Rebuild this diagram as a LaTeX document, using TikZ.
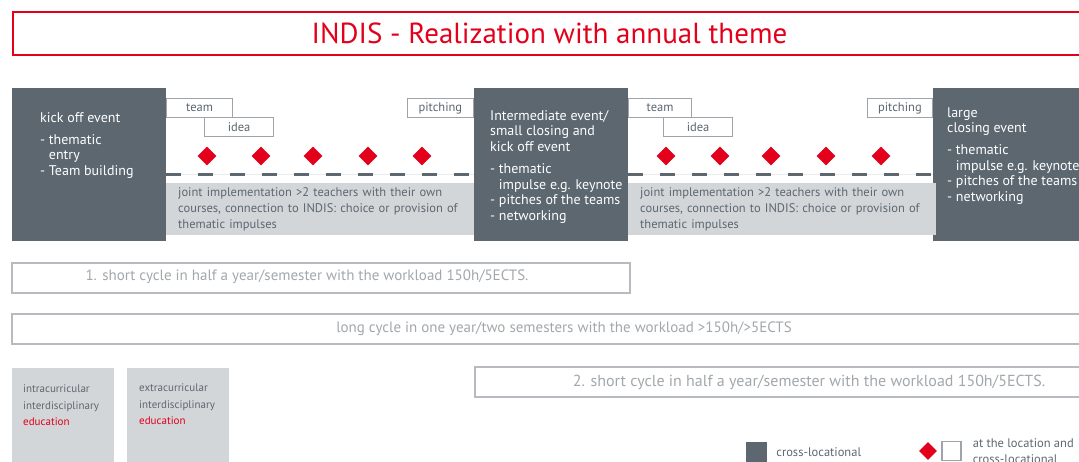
\documentclass[tikz,border=0pt]{standalone}
\usepackage{fontspec}
\setmainfont{PT Sans}
\usetikzlibrary{positioning,shapes.geometric}

\definecolor{indisred}{HTML}{E2001A}
\definecolor{slate}{HTML}{5C6770}
\definecolor{bandgray}{HTML}{D3D6D9}
\definecolor{stagegray}{HTML}{9EA4AA}
\definecolor{cyclegray}{HTML}{B7BBBF}
\definecolor{cycletext}{HTML}{A2A7AB}

\newcommand{\eventfont}{\fontsize{14}{15.6}\selectfont}
\newcommand{\bandfont}{\fontsize{12.5}{15.6}\selectfont}

\begin{document}
\begin{tikzpicture}[x=1pt,y=-1pt,
titlebox/.style={draw=indisred,line width=2pt,anchor=north west,minimum width=1073pt,minimum height=43pt,
  text=indisred,font=\fontsize{29}{31}\selectfont},
event/.style={fill=slate,anchor=north west,minimum width=154pt,minimum height=153pt,inner sep=0pt},
eventtext/.style={anchor=north west,align=left,text=white,inner sep=0pt,font=\eventfont},
band/.style={fill=bandgray,anchor=north west,minimum width=308pt,minimum height=52pt,text width=284pt,
  inner xsep=12pt,align=left,text=slate,font=\bandfont},
stage/.style={draw=stagegray,fill=white,line width=1.2pt,minimum height=19pt,inner sep=0pt,
  anchor=north west,text=slate,font=\fontsize{12.5}{14}\selectfont},
marker/.style={diamond,fill=indisred,minimum size=19pt,inner sep=0pt},
track/.style={slate,line width=3pt,dash pattern=on 15pt off 17pt},
cycle/.style={draw=cyclegray,line width=2pt,anchor=north west,minimum height=30pt},
cyclelabel/.style={text=cycletext,font=\fontsize{15}{17}\selectfont},
legendbox/.style={fill=bandgray,anchor=north west,minimum width=102pt,minimum height=100pt},
legendtext/.style={anchor=north west,align=left,inner sep=0pt,text=slate,font=\fontsize{11}{16.5}\selectfont}
]
\useasboundingbox (0,0) rectangle (1079,461);
\clip (0,0) rectangle (1079,461);

% title
\node[titlebox] (title) at (12,11) {INDIS - Realization with annual theme};

% events
\node[event] (kickoff) at (12,88) {};
\node[event] (interim) at (474,88) {};
\node[event,minimum width=160pt] (closing) at (933,88) {};

\node[eventtext] (kickoff-text) at (40,112) {kick off event\\[6.5pt]
  - thematic\\\phantom{- }entry\\- Team building};
\node[eventtext] (interim-text) at (490,110) {Intermediate event/\\small closing and\\kick off event\\[6.5pt]
  - thematic\\\phantom{- }impulse e.g. keynote\\- pitches of the teams\\- networking};
\node[eventtext] (closing-text) at (947,107) {large\\closing event\\[6.5pt]
  - thematic\\\phantom{- }impulse e.g. keynote\\- pitches of the teams\\- networking};

% joint implementation between the events
\node[band] (band1) at (166,183) {joint implementation >2 teachers with their own courses, connection to INDIS: choice or provision of thematic impulses};
\node[band] (band2) at (628,183) {joint implementation >2 teachers with their own courses, connection to INDIS: choice or provision of thematic impulses};

\coordinate (track) at (0,174);
\draw[bandgray!50,line width=1pt] (kickoff.east |- track) -- (interim.west |- track);
\draw[bandgray!50,line width=1pt] (interim.east |- track) -- (closing.west |- track);
\draw[track] (kickoff.east |- track) -- (interim.west |- track);
\draw[track] (interim.east |- track) -- (closing.west |- track);

% team / idea / pitching phases
\node[stage,minimum width=66pt] (team1) at (166,98) {team};
\node[stage,minimum width=69pt] (idea1) at (204,117) {idea};
\node[stage,minimum width=66pt,anchor=north east,yshift=-10pt] (pitch1) at (interim.north west) {pitching};
\node[stage,minimum width=63pt] (team2) at (628,98) {team};
\node[stage,minimum width=69pt] (idea2) at (663,117) {idea};
\node[stage,minimum width=65pt,anchor=north east,yshift=-10pt] (pitch2) at (closing.north west) {pitching};

% local meetings
\foreach \x [count=\i] in {207,261,313,368,422}
  \node[marker] (meet-a\i) at (\x,156) {};
\foreach \x [count=\i] in {666,720,771,826,881}
  \node[marker] (meet-b\i) at (\x,156) {};

% cycles
\node[cycle,minimum width=618pt] (short1) at (11,262) {};
\node[cycle,minimum width=1104pt] (long) at (11,313) {};
\node[cycle,minimum width=668pt] (short2) at (474,366) {};
\node[cyclelabel] (short1-text) at (307,277) {1. short cycle in half a year/semester with the workload 150h/5ECTS.};
\node[cyclelabel] (long-text) at (long) {long cycle in one year/two semesters with the workload >150h/>5ECTS};
\node[cyclelabel,font=\fontsize{16}{17}\selectfont] (short2-text) at (short2) {2. short cycle in half a year/semester with the workload 150h/5ECTS.};

% legend
\node[legendbox] (intra) at (12,368) {};
\node[legendbox] (extra) at (127,368) {};
\node[legendtext] (intra-text) at (23,385) {intracurricular\\interdisciplinary\\\textcolor{indisred}{education}};
\node[legendtext] (extra-text) at (139,384) {extracurricular\\interdisciplinary\\\textcolor{indisred}{education}};

\node[fill=slate,minimum size=21pt,inner sep=0pt] (key-cross) at (756.5,452) {};
\node[legendtext,anchor=west,font=\fontsize{12.5}{16}\selectfont,right=9pt of key-cross] (key-cross-text) {cross-locational};
\node[marker,minimum size=18pt] (key-meet) at (928,451) {};
\node[draw=stagegray,line width=1.2pt,minimum size=19pt,inner sep=0pt] (key-site) at (951.5,451) {};
\node[legendtext,anchor=west,font=\fontsize{12.5}{16}\selectfont,right=11pt of key-site] (key-site-text) {at the location and\\cross-locational};
\end{tikzpicture}
\end{document}
